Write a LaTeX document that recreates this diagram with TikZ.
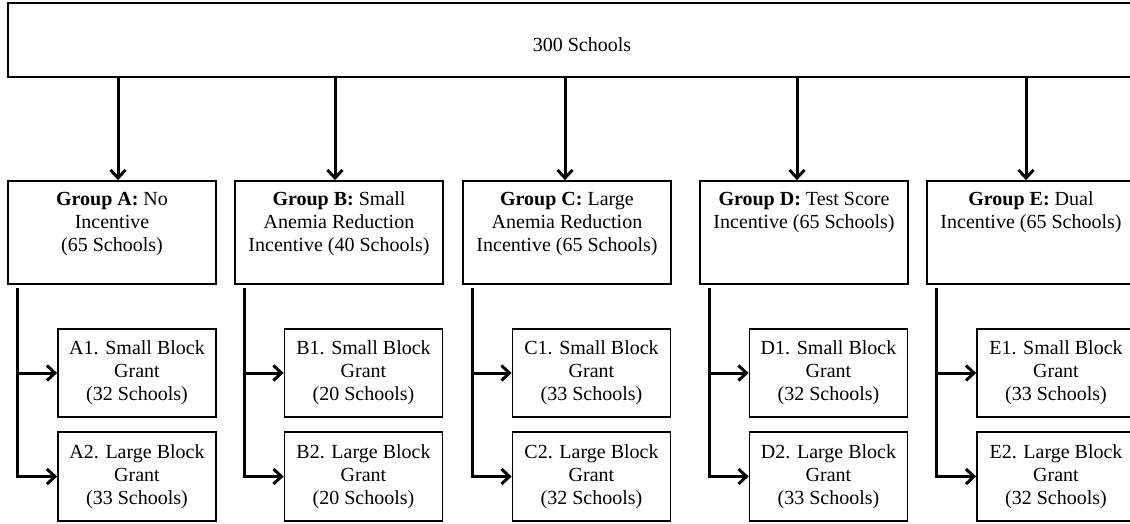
\documentclass[tikz,border=0pt]{standalone}
\usepackage{fontspec}
\setmainfont{Liberation Serif}
\usetikzlibrary{arrows.meta,calc}
\begin{document}
\begin{tikzpicture}[x=1pt,y=-1pt,
  box/.style={draw, line width=1.7pt, inner sep=0pt, font=\fontsize{20pt}{23pt}\selectfont},
  gbox/.style={box, minimum width=208pt, minimum height=103pt},
  sbox/.style={box, align=center, minimum width=158pt, minimum height=88.5pt},
  arr/.style={line width=3pt, line cap=butt, -{Straight Barb[length=8pt,width=15pt]}},
]
\useasboundingbox (0,0) rectangle (1130,523);
\newcommand{\gtext}[1]{\parbox[c][95pt][t]{206pt}{\centering\rule{0pt}{20pt}#1}}
% top box
\node[box, minimum width=1148pt, minimum height=74pt, text height=23pt, text depth=0pt] (top) at (582,40) {300 Schools};
% group boxes
\node[gbox] (gA) at (112,232.5) {\gtext{\textbf{Group A:} No\\Incentive\\(65 Schools)}};
\node[gbox] (gB) at (339,232.5) {\gtext{\textbf{Group B:} Small\\Anemia Reduction\\Incentive (40 Schools)}};
\node[gbox] (gC) at (567,232.5) {\gtext{\textbf{Group C:} Large\\Anemia Reduction\\Incentive (65 Schools)}};
\node[gbox] (gD) at (804,232.5) {\gtext{\textbf{Group D:} Test Score\\Incentive (65 Schools)}};
\node[gbox] (gE) at (1031,232.5) {\gtext{\textbf{Group E:} Dual\\Incentive (65 Schools)}};
% sub boxes
\node[sbox] (A1) at (137,373) {A1. Small Block\\Grant\\(32 Schools)};
\node[sbox] (A2) at (137,476.5) {A2. Large Block\\Grant\\(33 Schools)};
\node[sbox] (B1) at (363.5,373) {B1. Small Block\\Grant\\(20 Schools)};
\node[sbox] (B2) at (363.5,476.5) {B2. Large Block\\Grant\\(20 Schools)};
\node[sbox] (C1) at (591.5,373) {C1. Small Block\\Grant\\(33 Schools)};
\node[sbox] (C2) at (591.5,476.5) {C2. Large Block\\Grant\\(32 Schools)};
\node[sbox] (D1) at (828.5,373) {D1. Small Block\\Grant\\(32 Schools)};
\node[sbox] (D2) at (828.5,476.5) {D2. Large Block\\Grant\\(33 Schools)};
\node[sbox] (E1) at (1056,373) {E1. Small Block\\Grant\\(33 Schools)};
\node[sbox] (E2) at (1056,476.5) {E2. Large Block\\Grant\\(32 Schools)};
% connectors from top box
\foreach \g/\dx in {A/6,B/-4,C/-2,D/-7,E/-5}{
  \draw[arr] ($(g\g.north |- top.south)+(\dx,0)$) -- ($(g\g.north)+(\dx,0)$);
}
% branch connectors
\foreach \g in {A,B,C,D,E}{
  \draw[arr] ($(g\g.south west)+(10.5,3)$) |- (\g1.west);
  \draw[arr] ($(g\g.south west)+(10.5,3)$) |- (\g2.west);
}
\end{tikzpicture}
\end{document}
